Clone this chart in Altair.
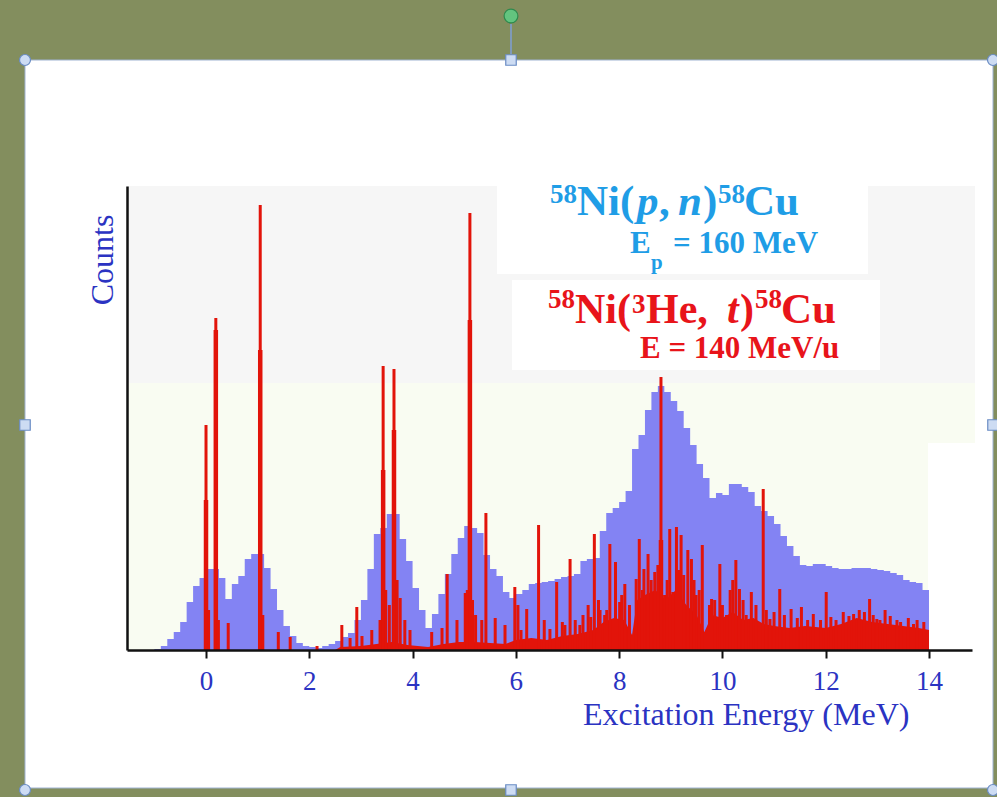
import altair as alt
import pandas as pd

# ---------------- data ----------------
# 58Ni(p,n) spectrum (blue histogram), bins of BIN_WIDTH MeV starting at BIN_START
BIN_START = -1.0
BIN_WIDTH = 0.125
pn_counts = [
    1, 4, 11, 18, 28, 48, 64, 72,
    81, 81, 72, 51, 66, 74, 91, 96,
    96, 82, 61, 40, 24, 14, 7, 4,
    3, 2, 4, 6, 9, 13, 17, 30,
    50, 81, 116, 122, 136, 136, 111, 89,
    62, 40, 22, 36, 56, 76, 96, 112,
    124, 122, 117, 95, 81, 74, 58, 52,
    56, 60, 66, 67, 68, 69, 71, 73,
    74, 76, 89, 91, 92, 119, 137, 142,
    148, 159, 201, 215, 240, 258, 264, 258,
    249, 239, 222, 205, 186, 172, 152, 157,
    155, 166, 166, 163, 158, 144, 139, 134,
    126, 114, 104, 94, 85, 84, 86, 86,
    84, 82, 81, 81, 82, 82, 82, 81,
    80, 79, 77, 75, 70, 68, 67, 60,
]

# 58Ni(3He,t) spectrum (red): discrete peaks
he_peak_energy = [
    0.00, 0.19, 0.43, 1.05, 1.40, 1.63, 2.15, 2.63, 2.79, 2.92, 3.02, 3.21, 3.37,
    3.43, 3.64, 3.95, 4.37, 4.57, 4.67, 4.86, 5.02, 5.11, 5.34, 5.42, 5.60, 5.79,
    5.98, 6.04, 6.21, 6.44, 6.66, 6.79, 6.95, 7.05, 7.24, 7.40, 7.52, 7.63, 7.72,
    7.82, 7.93, 8.01, 8.11, 8.33, 8.39, 8.48, 8.56, 8.69, 8.81, 8.88, 8.98, 9.04,
    9.11, 9.20, 9.33, 9.40, 9.49, 9.61, 9.79, 9.95, 10.08, 10.26, 10.33, 10.46,
    10.56, 10.79, 10.92, 11.11, 11.33, 11.53, 11.76, 12.01, 12.34, 12.54, 12.85,
    12.99, 13.15, 13.38, 13.77,
    6.10, 6.55, 6.90, 7.15, 7.30, 7.45, 7.60, 7.76, 8.05, 8.20, 8.45, 8.62, 8.75,
    8.93, 9.15, 9.25, 9.45, 9.55, 9.75, 9.85, 10.00, 10.15, 10.20, 10.40, 10.65,
    10.85, 11.00, 11.20, 11.45, 11.65, 11.90, 12.10, 12.20, 12.45, 12.65, 12.75,
    12.92, 13.05, 13.25, 13.45, 13.60, 13.70, 13.90,
    3.48, 3.55, 3.70, 3.76, 3.85, 5.06, 5.16, 5.22, 0.05, 0.24, 1.10,
]
he_peak_counts = [
    225, 332, 27, 445, 18, 13, 4, 25, 12, 43, 14, 20, 30,
    284, 281, 20, 18, 22, 76, 30, 57, 437, 30, 137, 32, 25,
    63, 45, 41, 125, 21, 68, 25, 91, 25, 45, 116, 40, 35,
    106, 88, 48, 66, 71, 111, 81, 96, 78, 273, 55, 121, 58,
    123, 115, 100, 91, 55, 105, 51, 86, 35, 90, 61, 35,
    58, 161, 31, 61, 41, 43, 36, 58, 38, 36, 51,
    31, 40, 30, 30,
    20, 30, 28, 30, 35, 33, 50, 40, 55, 45, 60, 70, 85,
    70, 80, 75, 70, 60, 45, 50, 45, 60, 70, 50, 45,
    40, 38, 35, 32, 30, 30, 33, 30, 34, 40, 38,
    35, 30, 34, 28, 32, 26, 28,
    60, 45, 70, 52, 30, 60, 50, 35, 40, 30, 35,
]
# broadened cores of the strongest peaks
he_base_energy = [0.00, 0.19, 1.05, 3.43, 3.64, 5.11, 8.81]
he_base_counts = [150, 320, 300, 180, 220, 330, 110]
# unresolved continuum under the peaks
he_cont_energy = [
    2.5, 2.6, 3.0, 3.3, 3.6, 3.9, 4.3, 4.6, 4.9, 5.2, 5.5, 5.8, 6.0, 6.3, 6.6,
    6.9, 7.2, 7.5, 7.7, 7.9, 8.1, 8.25, 8.35, 8.5, 8.7, 8.9, 9.1, 9.3, 9.5, 9.65,
    9.8, 10.0, 10.2, 10.4, 10.6, 10.8, 11.0, 11.3, 11.6, 12.0, 12.3, 12.6, 12.9,
    13.2, 13.5, 13.8, 14.0, 14.0,
]
he_cont_counts = [
    0, 3, 4, 6, 8, 5, 3, 6, 8, 8, 7, 6, 10, 12, 10,
    14, 16, 20, 28, 32, 30, 15, 50, 55, 60, 50, 60, 45, 35, 18,
    35, 32, 38, 30, 32, 26, 24, 22, 24, 22, 26, 32, 28,
    26, 24, 22, 20, 0,
]

x_ticks = [0, 2, 4, 6, 8, 10, 12, 14]

# ---------------- tables ----------------
edges = [BIN_START + BIN_WIDTH * i for i in range(len(pn_counts) + 1)]
blue_df = pd.DataFrame({"E": edges, "counts": pn_counts + [0]})
peaks_df = pd.DataFrame({"E": he_peak_energy, "counts": he_peak_counts, "base": 0})
base_df = pd.DataFrame({"E": he_base_energy, "counts": he_base_counts, "base": 0})
cont_df = pd.DataFrame({"E": he_cont_energy, "counts": he_cont_counts})
one = pd.DataFrame({"a": [0]})

# ---------------- style ----------------
W, H = 845, 464
OLIVE = "#838e5e"
BLUE_FILL = "#8383f3"
RED = "#e2140a"
AX_BLUE = "#2b33c2"
SKY = "#1f9de6"
LBL_RED = "#e8141a"
FONT = "Liberation Serif"

xscale = alt.Scale(domain=[-1.53, 14.833], nice=False, zero=False)
yscale = alt.Scale(domain=[0, 464], nice=False, zero=True)
xaxis = alt.Axis(values=x_ticks, title=None, grid=False, domain=True,
                 domainColor="#111111", domainWidth=2.5, ticks=True,
                 tickColor="#111111", tickWidth=2, tickSize=8,
                 labelFont=FONT, labelFontSize=27, labelColor=AX_BLUE,
                 labelPadding=10, labelFlush=False, zindex=1)
yaxis = alt.Axis(title=None, grid=False, domain=True, domainColor="#111111",
                 domainWidth=2.5, ticks=False, labels=False, zindex=1)


def rect(x, x2, y, y2, fill, **kw):
    return alt.Chart(one).mark_rect(fill=fill, **kw).encode(
        x=alt.value(x), x2=alt.value(x2), y=alt.value(y), y2=alt.value(y2))


def txt(s, x, y, size, color, italic=False, bold=True, angle=None, align="left"):
    kw = dict(text=s, font=FONT, fontSize=size, color=color, align=align,
              baseline="alphabetic", fontWeight="bold" if bold else "normal")
    if italic:
        kw["fontStyle"] = "italic"
    if angle is not None:
        kw["angle"] = angle
    return alt.Chart(one).mark_text(**kw).encode(x=alt.value(x), y=alt.value(y))


def handle(x, y, shape="circle", fill="#cddcf3", stroke="#6a8cc4", size=120):
    return alt.Chart(one).mark_point(shape=shape, filled=True, fill=fill,
                                     stroke=stroke, strokeWidth=1.2, size=size,
                                     opacity=1).encode(x=alt.value(x), y=alt.value(y))


# ---------------- layers ----------------
layers = []
# white slide panel and the plot backgrounds
layers.append(rect(-102, 866, -126, 602, "white", stroke="#9fb3d2", strokeWidth=1))
layers.append(rect(0, 848, 0, 197, "#f6f6f6"))
layers.append(rect(0, 848, 197, 257, "#f9fcf2"))
layers.append(rect(0, 801, 257, 464, "#f9fcf2"))

blue = alt.Chart(blue_df).mark_area(interpolate="step-after", color=BLUE_FILL).encode(
    x=alt.X("E:Q", scale=xscale, axis=xaxis),
    y=alt.Y("counts:Q", scale=yscale, axis=yaxis, stack=None))
layers.append(blue)

cont = alt.Chart(cont_df).mark_area(color=RED).encode(
    x=alt.X("E:Q", scale=xscale), y=alt.Y("counts:Q", scale=yscale, stack=None))
layers.append(cont)

bases = alt.Chart(base_df).mark_rule(color=RED, strokeWidth=4.5).encode(
    x=alt.X("E:Q", scale=xscale), y=alt.Y("counts:Q", scale=yscale), y2="base:Q")
layers.append(bases)

peaks = alt.Chart(peaks_df).mark_rule(color=RED, strokeWidth=3).encode(
    x=alt.X("E:Q", scale=xscale), y=alt.Y("counts:Q", scale=yscale), y2="base:Q")
layers.append(peaks)

# label boxes
layers.append(rect(370, 741, -2, 88, "white"))
layers.append(rect(385, 753, 94, 184, "white"))

# blue label: 58Ni(p, n)58Cu  /  Ep = 160 MeV
layers += [
    txt("58", 423, 17, 27, SKY),
    txt("Ni(", 450, 29, 43, SKY),
    txt("p", 510, 29, 43, SKY, italic=True),
    txt(",", 532, 29, 43, SKY),
    txt("n", 551, 29, 43, SKY, italic=True),
    txt(")", 576, 29, 43, SKY),
    txt("58", 591, 17, 27, SKY),
    txt("Cu", 617, 29, 43, SKY),
    txt("E", 503, 67, 31, SKY),
    txt("p", 524, 83, 21, SKY),
    txt("= 160 MeV", 546, 67, 31, SKY),
]
# red label: 58Ni(3He, t)58Cu  /  E = 140 MeV/u
layers += [
    txt("58", 421, 122, 27, LBL_RED),
    txt("Ni(", 448, 137, 42, LBL_RED),
    txt("3", 505, 127, 27, LBL_RED),
    txt("He,", 519, 137, 42, LBL_RED),
    txt("t", 600, 137, 42, LBL_RED, italic=True),
    txt(")", 613, 137, 42, LBL_RED),
    txt("58", 628, 122, 27, LBL_RED),
    txt("Cu", 654, 137, 43, LBL_RED),
    txt("E = 140 MeV/u", 513, 172, 31, LBL_RED),
]
# axis titles
layers.append(txt("Excitation Energy (MeV)", 456, 539, 32, AX_BLUE, bold=False))
layers.append(txt("Counts", -14, 74, 32, AX_BLUE, bold=False, angle=270, align="center"))

# selection handles of the picture frame
layers.append(alt.Chart(one).mark_rule(color="#7f9ab8", strokeWidth=2).encode(
    x=alt.value(384), y=alt.value(-162), y2=alt.value(-132)))
layers += [
    handle(-102, -126), handle(384, -126, shape="square", size=110), handle(866, -126),
    handle(-102, 239, shape="square", size=110), handle(866, 239, shape="square", size=110),
    handle(-102, 604), handle(384, 604, shape="square", size=110), handle(866, 604),
    handle(384, -170, fill="#63c47f", stroke="#2e8a4e", size=190),
]

chart = alt.layer(*layers).properties(
    width=W, height=H,
    autosize=alt.AutoSizeParams(type="none"),
    padding={"left": 127, "top": 186, "right": 25, "bottom": 147},
    background=OLIVE,
).configure_view(stroke=None)

chart.save("out.html", embed_options={"renderer": "svg", "actions": False})
